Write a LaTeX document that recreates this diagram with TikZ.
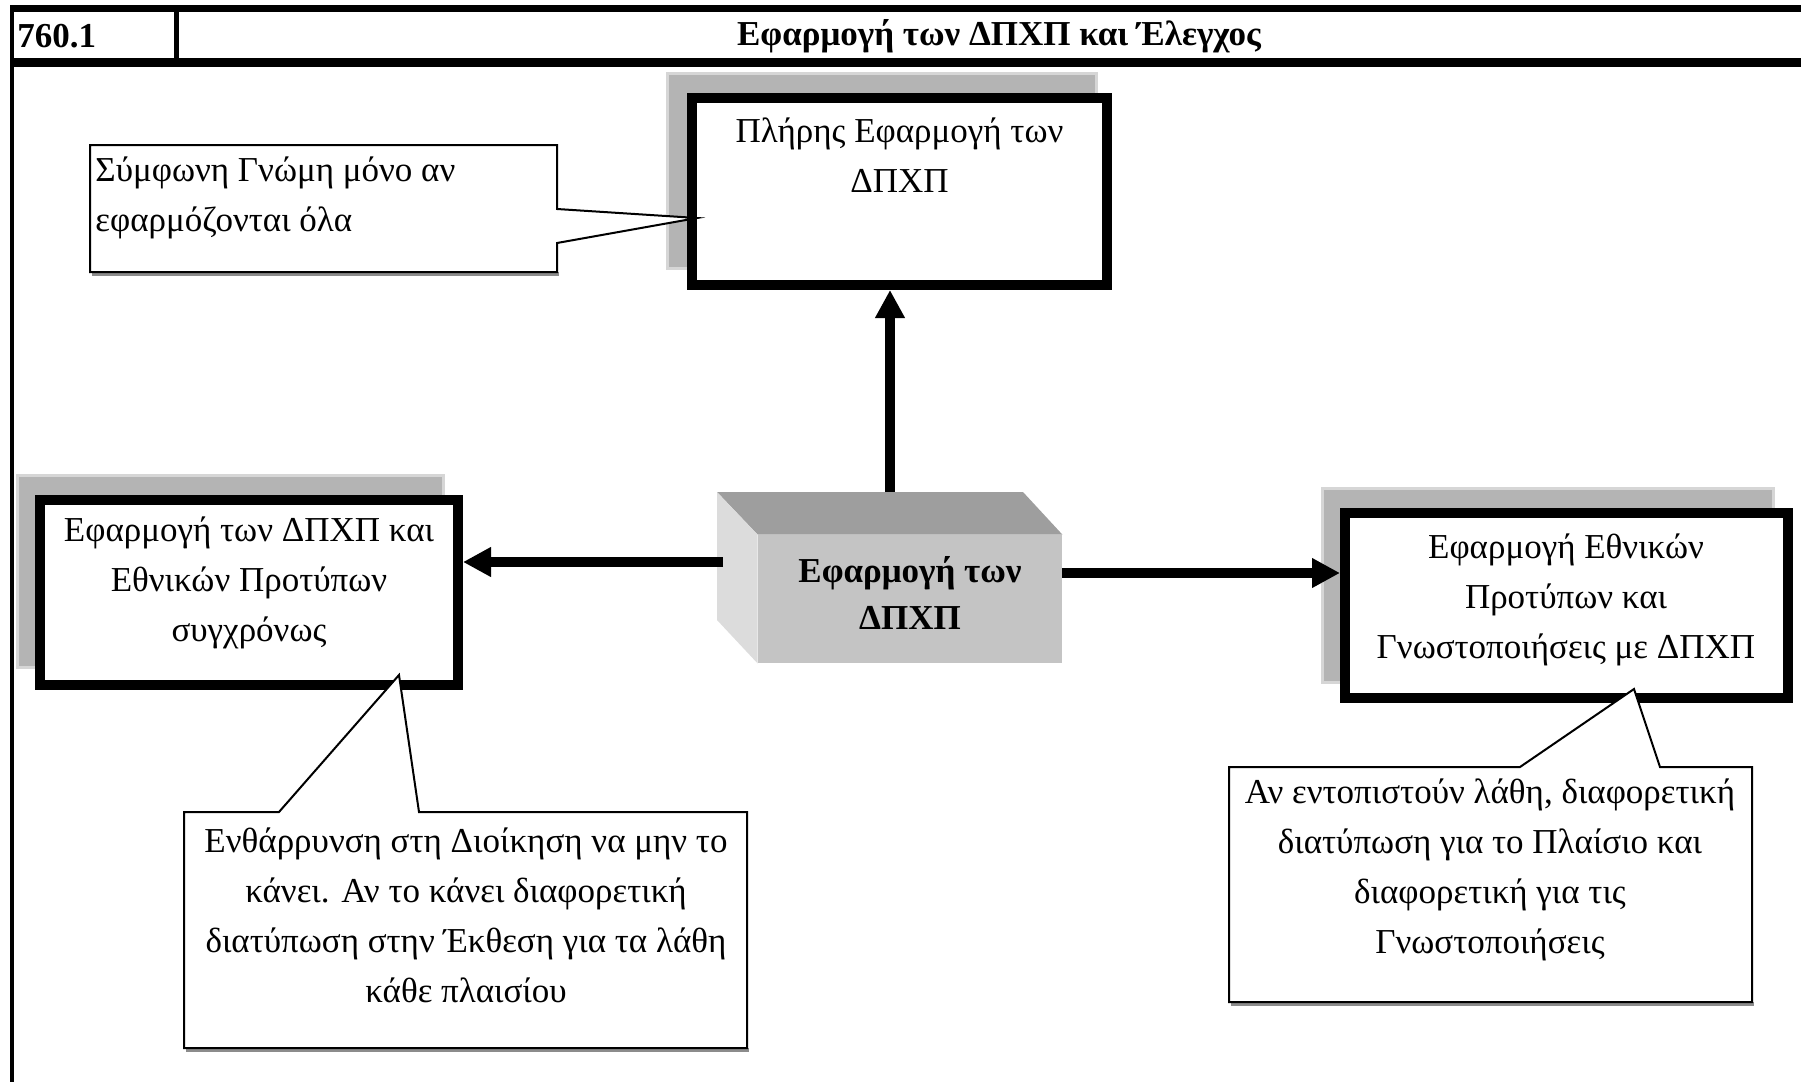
\documentclass[tikz,border=0pt]{standalone}
\usepackage{fontspec}
\setmainfont{Liberation Serif}
\usetikzlibrary{arrows.meta}
\definecolor{shadowgray}{HTML}{B4B4B4}
\definecolor{shadowedge}{HTML}{D6D6D6}
\definecolor{frontgray}{HTML}{C4C4C4}
\definecolor{topgray}{HTML}{9E9E9E}
\definecolor{leftgray}{HTML}{DCDCDC}
\begin{document}
\begin{tikzpicture}[x=0.5pt,y=-0.5pt,
  mainbox/.style={draw=black, line width=5pt, fill=white, inner sep=0pt},
  shadowbox/.style={fill=shadowgray, draw=shadowedge, line width=1.5pt},
  callout/.style={draw=black, line width=1pt, fill=white},
  calloutshadow/.style={fill=black!45},
  body/.style={font=\fontsize{17.5}{25}\selectfont, align=center, inner sep=0pt},
  boldbody/.style={font=\fontsize{17.5}{23.5}\selectfont\bfseries, align=center, inner sep=0pt},
  flow/.style={line width=5pt, -{Triangle[length=14pt,width=14pt]}},
  rule/.style={draw=black}]
\useasboundingbox (0,0) rectangle (1801,1082);
\fill[white] (0,0) rectangle (1801,1082);

% frame / title row
\draw[rule, line width=3.5pt] (10,8.5) -- (1801,8.5);
\draw[rule, line width=4.5pt] (10,62.5) -- (1801,62.5);
\draw[rule, line width=2pt] (12,5) -- (12,1082);
\draw[rule, line width=2.5pt] (176,8.5) -- (176,62.5);
\node[font=\fontsize{17.5}{20}\selectfont\bfseries, anchor=west, inner sep=0pt] (num) at (17,36) {760.1};
\node[font=\fontsize{17.5}{20}\selectfont\bfseries, inner sep=0pt] (title) at (999,36) {Εφαρμογή των ΔΠΧΠ και Έλεγχος};

% top box
\draw[shadowbox] (667,73) rectangle (1096,268);
\node[mainbox, minimum width=207.5pt, minimum height=93.5pt] (top) at (899.5,191.5) {};
\node[body] (toptxt) at (899.5,155) {Πλήρης Εφαρμογή των\\ΔΠΧΠ};

% left box
\draw[shadowbox] (17,475) rectangle (443,667);
\node[mainbox, minimum width=209pt, minimum height=92.5pt] (leftbox) at (249,592.5) {};
\node[body] (lefttxt) at (249,583) {Εφαρμογή των ΔΠΧΠ και\\Εθνικών Προτύπων\\συγχρόνως};

% right box
\draw[shadowbox] (1322,488) rectangle (1773,682);
\node[mainbox, minimum width=221.5pt, minimum height=92.5pt] (rightbox) at (1566.5,605.5) {};
\node[body] (righttxt) at (1566,600) {Εφαρμογή Εθνικών\\Προτύπων και\\Γνωστοποιήσεις με ΔΠΧΠ};

% central 3D block
\node[fill=frontgray, minimum width=152pt, minimum height=64pt, inner sep=0pt] (hub) at (910,599) {};
\fill[topgray] (717,492) -- (1023,492) -- (hub.north east) -- (hub.north west) -- cycle;
\fill[leftgray] (717,492) -- (hub.north west) -- (hub.south west) -- (717,620) -- cycle;
\node[boldbody] (hubtxt) at (910,593) {Εφαρμογή των\\ΔΠΧΠ};

% arrows
\coordinate (upfrom) at (890,492);
\draw[flow] (upfrom) -- (upfrom |- top.south);
\coordinate (lfrom) at (723,562);
\draw[flow] (lfrom) -- (lfrom -| leftbox.east);
\coordinate (rfrom) at (1062,573);
\draw[flow] (rfrom) -- (rfrom -| rightbox.west);

% callout 1
\fill[calloutshadow] (92,272) rectangle (559,276);
\draw[callout] (90,145) -- (557,145) -- (557,209) -- (697,218) -- (557,243) -- (557,272) -- (90,272) -- cycle;
\node[body, align=left, anchor=west] (c1txt) at (95,198) {Σύμφωνη Γνώμη μόνο αν\\εφαρμόζονται όλα};

% callout 2
\fill[calloutshadow] (186,1048) rectangle (749,1052);
\draw[callout] (184,812) -- (279,812) -- (399,675) -- (419,812) -- (747,812) -- (747,1048) -- (184,1048) -- cycle;
\node[body] (c2txt) at (466,915) {Ενθάρρυνση στη Διοίκηση να μην το\\κάνει. Αν το κάνει διαφορετική\\διατύπωση στην Έκθεση για τα λάθη\\κάθε πλαισίου};

% callout 3
\fill[calloutshadow] (1231,1002) rectangle (1754,1006);
\draw[callout] (1229,767) -- (1520,767) -- (1634,689) -- (1660,767) -- (1752,767) -- (1752,1002) -- (1229,1002) -- cycle;
\node[body] (c3txt) at (1490,870) {Αν εντοπιστούν λάθη, διαφορετική\\διατύπωση για το Πλαίσιο και\\διαφορετική για τις\\Γνωστοποιήσεις};
\end{tikzpicture}
\end{document}
